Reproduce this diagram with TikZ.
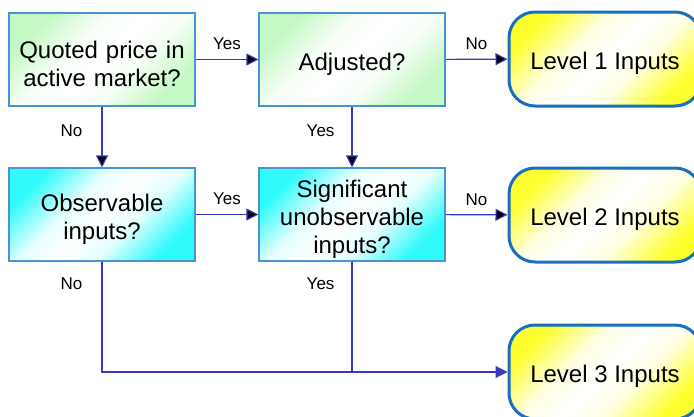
\documentclass[tikz,border=0pt]{standalone}
\usepackage{fontspec}
\setmainfont{Liberation Sans}
\usetikzlibrary{arrows.meta,positioning}

\definecolor{boxline}{RGB}{70,148,212}
\definecolor{levline}{RGB}{22,112,190}
\definecolor{flow}{RGB}{56,56,190}
\definecolor{palegreen}{RGB}{196,248,196}
\definecolor{aqua}{RGB}{48,250,250}
\definecolor{lemon}{RGB}{255,255,48}

% white band along one diagonal, colour in the two other corners
\newcommand{\cornershade}[2]{%
	\colorlet{#1strong}{#2!65}\colorlet{#1soft}{#2!12}%
	\pgfdeclarehorizontalshading{#1}{100bp}{color(0bp)=(#2); color(25bp)=(#2);
		color(31bp)=(#1strong); color(40bp)=(#1soft); color(50bp)=(white);
		color(60bp)=(#1soft); color(69bp)=(#1strong); color(75bp)=(#2); color(100bp)=(#2)}}
\cornershade{aquashade}{aqua}
\cornershade{greenshade}{palegreen}
\cornershade{lemonshade}{lemon}

\tikzset{
	question/.style={draw=boxline, line width=1.1pt, minimum width=186pt, minimum height=93pt,
		text width=176pt, align=center, inner sep=0pt, text height=26pt,
		font=\fontsize{24}{28}\selectfont, shading=aquashade, shading angle=-45},
	level/.style={draw=levline, line width=3pt, rounded corners=26pt, minimum width=192pt,
		minimum height=94pt, inner sep=0pt, text height=26pt, font=\fontsize{24}{28}\selectfont,
		shading=lemonshade, shading angle=-45},
	answer/.style={inner sep=0pt, font=\fontsize{17}{20}\selectfont},
	flowline/.style={draw=flow, line width=1.1pt, -{Triangle[length=12pt,width=12pt]}}
}

\begin{document}
\begin{tikzpicture}[x=1pt,y=-1pt]
		\useasboundingbox (0,0) rectangle (694,416);
		\draw (102,59.5) node [question, shading=greenshade] (quoted){Quoted price in\\active market?};
		\draw (352,59.5) node [question, shading=greenshade] (adjusted){Adjusted?};
		\draw (605,59) node [level] (lev1){Level 1 Inputs};
		\draw (102,214.5) node [question] (observ){Observable\\inputs?};
		\draw (352,214.5) node [question] (signif){Significant\\unobservable\\inputs?};
		\draw (605,215) node [level] (lev2){Level 2 Inputs};
		\draw (605,372) node [level] (lev3){Level 3 Inputs};

		\draw [flowline]
		(quoted) edge node [answer, above=9pt] {Yes} (adjusted)
			 edge node [answer, left=19pt, pos=0.4] {No} (observ)
		(adjusted) edge node [answer, above=9pt] {No} (lev1)
			 edge node [answer, left=17pt, pos=0.4] {Yes} (signif)
		(observ) edge node [answer, above=9pt] {Yes} (signif)
		(signif) edge node [answer, above=9pt] {No} (lev2);

		\draw [flowline] (observ) |- node [answer, left=19pt, pos=0.1] {No} (lev3);
		\draw [flowline, -] (signif) -- node [answer, left=17pt, pos=0.2] {Yes} (signif |- lev3);
	\end{tikzpicture}
\end{document}
